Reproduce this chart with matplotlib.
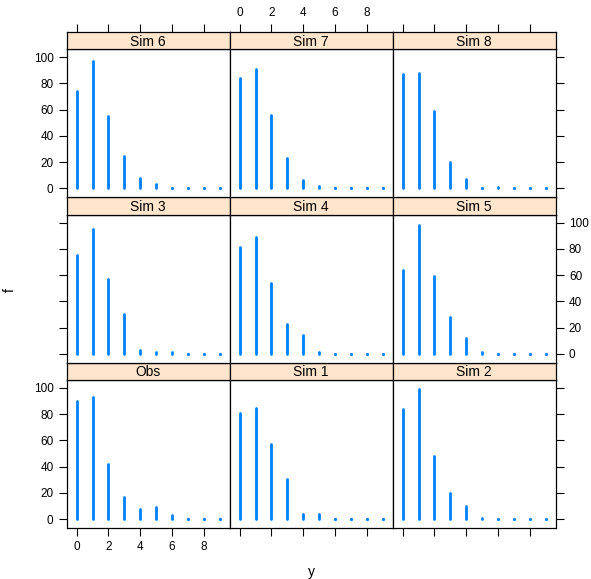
import numpy as np
import matplotlib
matplotlib.use("Agg")
import matplotlib.pyplot as plt

plt.rcParams['font.family'] = ['Liberation Sans', 'DejaVu Sans']

# data: frequency f of each count y, observed and simulated
y_vals = np.arange(10)
panels = ["Obs", "Sim 1", "Sim 2", "Sim 3", "Sim 4", "Sim 5", "Sim 6", "Sim 7", "Sim 8"]
f_obs = [90, 93, 42, 17, 8, 9, 3, 0, 0, 0]
f_sim1 = [81, 85, 57, 31, 4, 4, 0, 0, 0, 0]
f_sim2 = [84, 99, 48, 20, 10, 1, 0, 0, 0, 0]
f_sim3 = [75, 95, 57, 30, 3, 1, 1, 0, 0, 0]
f_sim4 = [81, 89, 54, 23, 14, 1, 0, 0, 0, 0]
f_sim5 = [64, 98, 59, 28, 12, 1, 0, 0, 0, 0]
f_sim6 = [74, 97, 55, 25, 8, 3, 0, 0, 0, 0]
f_sim7 = [84, 91, 56, 23, 6, 2, 0, 0, 0, 0]
f_sim8 = [87, 88, 59, 20, 7, 0, 1, 0, 0, 0]
values = [f_obs, f_sim1, f_sim2, f_sim3, f_sim4, f_sim5, f_sim6, f_sim7, f_sim8]

x_ticks = [0, 2, 4, 6, 8]
y_ticks = [0, 20, 40, 60, 80, 100]

W, H = 591, 579
fig = plt.figure(figsize=(W / 100, H / 100), dpi=100)

bar_col = "#0080ff"
strip_col = "#ffe5cc"
lw = 2.0
fs_tick = 8.5

# lattice style limits: 7% padding
ymax = max(max(v) for v in values)
ylim = (-0.07 * ymax, ymax * 1.07)
xlim = (-0.07 * 9, 9 * 1.07)

# layout in pixels
left_px = 66.7
col_w = 163.0
top_px = 32.0
bottom_px = 528.3
block_h = (bottom_px - top_px) / 3
strip_h = 17.3
panel_h = block_h - strip_h


def fx(px):
    return px / W


def fy(py):
    return 1 - py / H


for i, (name, f) in enumerate(zip(panels, values)):
    row_from_bottom = i // 3
    col = i % 3
    row = 2 - row_from_bottom  # 0 = top row
    x0 = left_px + col * col_w
    y_strip_top = top_px + row * block_h
    y_panel_top = y_strip_top + strip_h
    y_panel_bot = y_panel_top + panel_h

    ax = fig.add_axes([fx(x0), fy(y_panel_bot), col_w / W, panel_h / H])
    ax.set_xlim(xlim)
    ax.set_ylim(ylim)

    for xv, fv in zip(y_vals, f):
        if fv > 0:
            ax.plot([xv, xv], [0, fv], color=bar_col, lw=lw, solid_capstyle="round")
        else:
            ax.plot([xv], [0], "o", color=bar_col, ms=lw * 1.15, mew=0)

    for s in ax.spines.values():
        s.set_linewidth(0.9)

    # y axis: ticks outer sides, labels alternating
    ax.set_yticks(y_ticks)
    ax.set_xticks(x_ticks)
    ax.tick_params(direction="out", length=5.5, width=0.8, labelsize=fs_tick, pad=4,
                   left=(col == 0), right=(col == 2), top=False, bottom=(row == 2),
                   labelleft=(col == 0 and row != 1),
                   labelright=(col == 2 and row == 1),
                   labelbottom=(row == 2 and col == 0), labeltop=False)

    # strip
    sax = fig.add_axes([fx(x0), fy(y_panel_top), col_w / W, strip_h / H])
    sax.set_facecolor(strip_col)
    sax.set_xlim(xlim)
    sax.set_yticks([])
    sax.set_xticks(x_ticks)
    for s in sax.spines.values():
        s.set_linewidth(0.9)
    sax.tick_params(direction="out", length=5.5, width=0.8, labelsize=fs_tick, pad=3.5,
                    bottom=False, labelbottom=False, top=(row == 0),
                    labeltop=(row == 0 and col == 1))
    sax.text(0.5, 0.45, name, transform=sax.transAxes, ha="center", va="center",
             fontsize=10)

fig.text(fx(311), fy(572), "y", ha="center", va="center", fontsize=10)
fig.text(fx(10), fy(290), "f", ha="center", va="center", fontsize=10, rotation=90)

fig.savefig("out.png", dpi=100)
